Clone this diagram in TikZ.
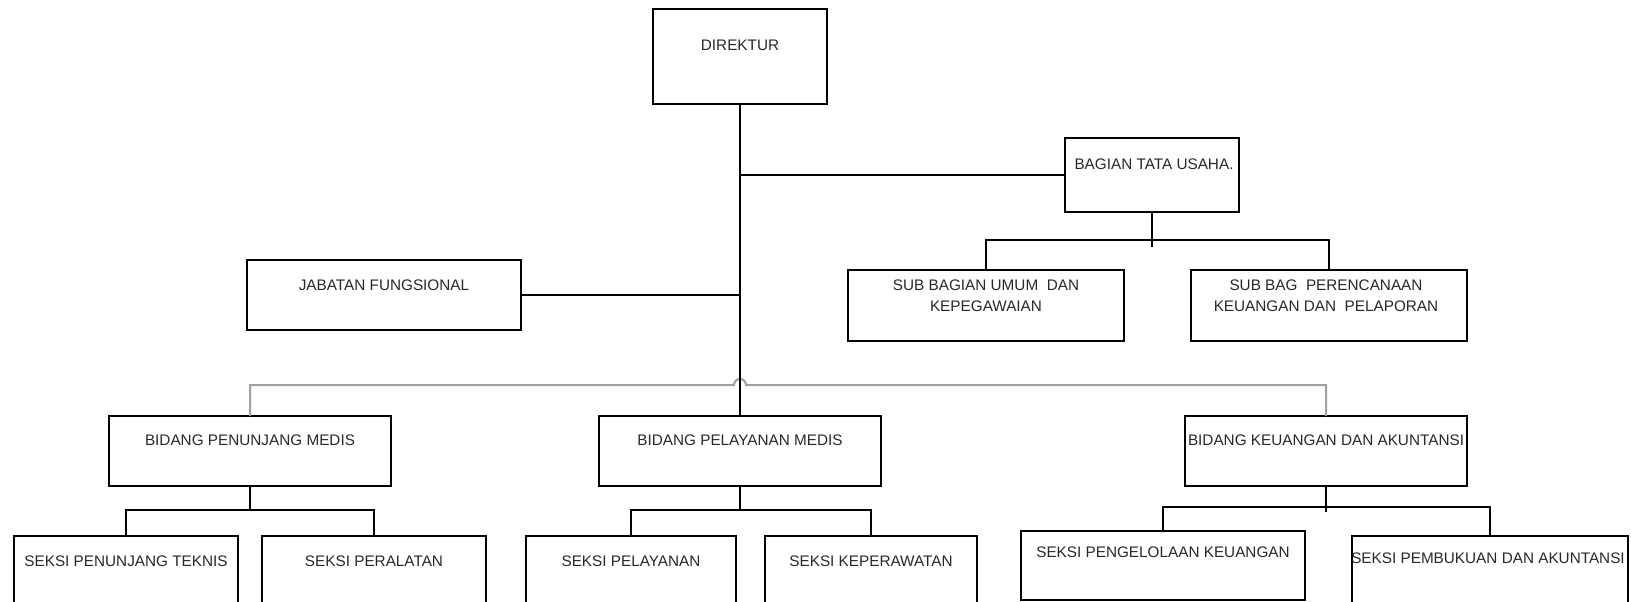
\documentclass[tikz,border=0pt]{standalone}
\usepackage{fontspec}
\setmainfont{Liberation Sans}
\usetikzlibrary{calc}
\definecolor{grayline}{RGB}{160,160,160}
\definecolor{txt}{RGB}{40,40,40}
\tikzset{
  orgbox/.style={draw=black, line width=2pt, fill=white, outer sep=0pt, inner sep=0pt, anchor=north west},
  lbl/.style={text=txt, inner sep=0pt, align=center, font=\fontsize{15.3}{21}\selectfont},
  conn/.style={draw=black, line width=2pt},
  gline/.style={draw=grayline, line width=2pt},
}
\begin{document}
\begin{tikzpicture}[x=1pt,y=-1pt]
\useasboundingbox (0,0) rectangle (1631,602);
\fill[white] (0,0) rectangle (1631,602);

% boxes
\node[orgbox, minimum width=174, minimum height=95] (dir) at (653,9) {};
\node[orgbox, minimum width=174, minimum height=74] (tata) at (1065,138) {};
\node[orgbox, minimum width=276, minimum height=71] (umum) at (848,270) {};
\node[orgbox, minimum width=276, minimum height=71] (renc) at (1191,270) {};
\node[orgbox, minimum width=274, minimum height=70] (jab) at (247,260) {};
\node[orgbox, minimum width=282, minimum height=70] (pen) at (109,416) {};
\node[orgbox, minimum width=282, minimum height=70] (pel) at (599,416) {};
\node[orgbox, minimum width=282, minimum height=70] (kea) at (1185,416) {};
\node[orgbox, minimum width=224, minimum height=90] (pt) at (14,536) {};
\node[orgbox, minimum width=224, minimum height=90] (pa) at (262,536) {};
\node[orgbox, minimum width=210, minimum height=90] (sp) at (526,536) {};
\node[orgbox, minimum width=212, minimum height=90] (kp) at (765,536) {};
\node[orgbox, minimum width=284, minimum height=69] (pk) at (1021,531) {};
\node[orgbox, minimum width=276, minimum height=90] (pb) at (1352,536) {};

% labels
\node[lbl] (tdir) at ($(dir.north)+(0,36)$) {DIREKTUR};
\node[lbl] (ttata) at ($(tata.north)+(2,26)$) {BAGIAN TATA USAHA.};
\node[lbl] (tumum) at ($(umum.north)+(0,25.5)$) {SUB BAGIAN UMUM\ \ DAN\\KEPEGAWAIAN};
\node[lbl] (trenc) at ($(renc.north)+(-3,25.5)$) {SUB BAG\ \ PERENCANAAN\\KEUANGAN DAN\ \ PELAPORAN};
\node[lbl] (tjab) at ($(jab.north)+(0,25)$) {JABATAN FUNGSIONAL};
\node[lbl] (tpen) at ($(pen.north)+(0,24)$) {BIDANG PENUNJANG MEDIS};
\node[lbl] (tpel) at ($(pel.north)+(0,24)$) {BIDANG PELAYANAN MEDIS};
\node[lbl] (tkea) at ($(kea.north)+(0,24)$) {BIDANG KEUANGAN DAN AKUNTANSI};
\node[lbl] (tpt) at ($(pt.north)+(0,25)$) {SEKSI PENUNJANG TEKNIS};
\node[lbl] (tpa) at ($(pa.north)+(0,25)$) {SEKSI PERALATAN};
\node[lbl] (tsp) at ($(sp.north)+(0,25)$) {SEKSI PELAYANAN};
\node[lbl] (tkp) at ($(kp.north)+(0,25)$) {SEKSI KEPERAWATAN};
\node[lbl] (tpk) at ($(pk.north)+(0,21)$) {SEKSI PENGELOLAAN KEUANGAN};
\node[lbl] (tpb) at ($(pb.north)+(-2,22.5)$) {SEKSI PEMBUKUAN DAN AKUNTANSI};

% connectors
\coordinate (jumpL) at (734,385);
\draw[gline] (pen.north) |- (jumpL) arc[start angle=180, end angle=0, radius=6pt] -- (kea.north |- jumpL) -- (kea.north);
\draw[conn] (dir.south) -- (pel.north);
\draw[conn] (tata.west) -- (tata.west -| dir.south);
\draw[conn] (jab.east) -- (jab.east -| dir.south);
\draw[conn] (tata.south) -- ++(0,35);
\draw[conn] (umum.north) -- ++(0,-30) -| (renc.north);
\draw[conn] (pen.south) -- ++(0,25);
\draw[conn] (pt.north) -- ++(0,-26) -| (pa.north);
\draw[conn] (pel.south) -- ++(0,25);
\draw[conn] (sp.north) -- ++(0,-26) -| (kp.north);
\draw[conn] (kea.south) -- ++(0,26);
\draw[conn] (pk.north) -- ++(0,-24) -| (pb.north);
\end{tikzpicture}
\end{document}
